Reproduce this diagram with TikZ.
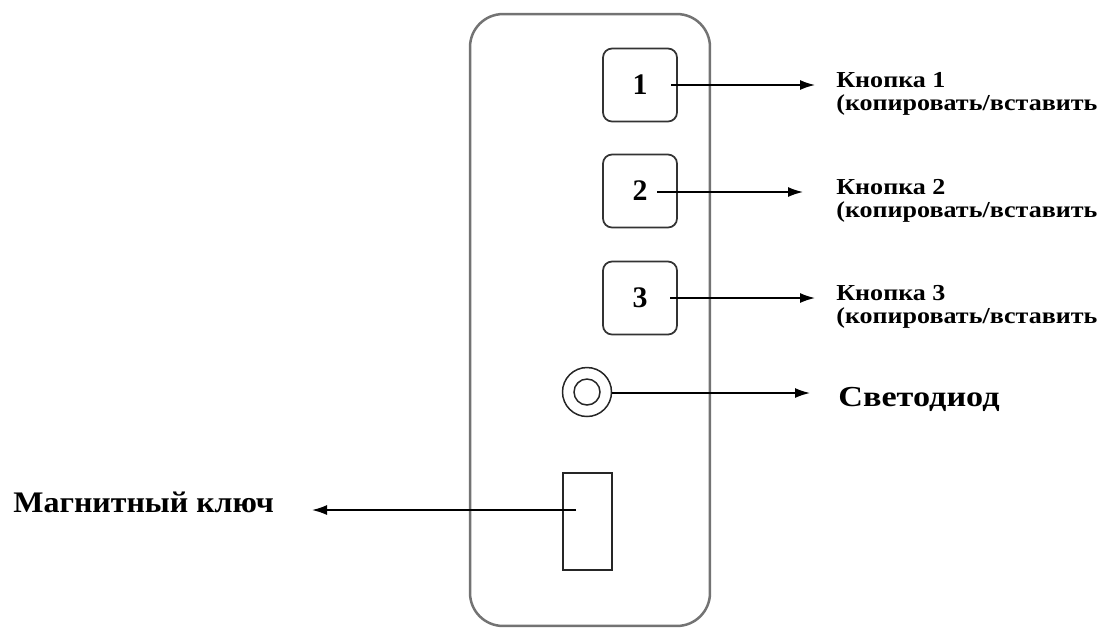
\documentclass[tikz,border=0pt]{standalone}
\usepackage{fontspec}
\setmainfont{Liberation Serif}
\newfontfamily\capfont[FakeStretch=1.14]{Liberation Serif}
\newfontfamily\ledfont[FakeStretch=1.18]{Liberation Serif}
\newfontfamily\slotfont[FakeStretch=1.07]{Liberation Serif}
\usetikzlibrary{arrows.meta, positioning}

\begin{document}
\begin{tikzpicture}[
        x=0.02cm, y=-0.02cm,
        panel/.style={
            draw=black!55,
            line width=0.05cm,
            rounded corners=0.66cm,
            minimum width=4.8cm,
            minimum height=12.24cm
        },
        keybox/.style={
            draw=black!80,
            line width=0.035cm,
            rounded corners=0.18cm,
            minimum width=1.48cm,
            minimum height=1.46cm,
            font=\fontsize{17}{17}\selectfont\bfseries
        },
        ledring/.style={draw=black!85, circle, line width=0.03cm, inner sep=0pt},
        magnet/.style={
            draw=black!85,
            line width=0.04cm,
            minimum width=0.98cm,
            minimum height=1.94cm
        },
        caption/.style={inner sep=0pt, align=left, font=\capfont\fontsize{13}{13}\selectfont\bfseries},
        ledcaption/.style={inner sep=0pt, font=\ledfont\fontsize{16.5}{16.5}\selectfont\bfseries},
        slotcaption/.style={inner sep=0pt, font=\slotfont\fontsize{17}{17}\selectfont\bfseries},
        callout/.style={-{Latex[length=0.3cm, width=0.2cm]}, line width=0.03cm}
    ]
        \useasboundingbox (0,0) rectangle (1104,627);

        % device body
        \node[panel] (body) at (590,320) {};

        % keys
        \node[keybox] (key1) at (640,85) {1};
        \node[keybox] (key2) at (640,191) {2};
        \node[keybox] (key3) at (640,298) {3};

        % LED and magnetic key slot
        \node[ledring, minimum size=0.98cm] (led) at (587,392) {};
        \node[ledring, minimum size=0.52cm] (ledin) at (led.center) {};
        \node[magnet] (slot) at (587.5,521.5) {};

        % texts
        \node[caption, anchor=north west] (cap1) at (836,72) {Кнопка 1\\(копировать/вставить};
        \node[caption, anchor=north west] (cap2) at (836,179) {Кнопка 2\\(копировать/вставить};
        \node[caption, anchor=north west] (cap3) at (836,285) {Кнопка 3\\(копировать/вставить};
        \node[ledcaption, anchor=base west] (capled) at (838,406) {Светодиод};
        \node[slotcaption, anchor=base west] (capslot) at (13,512) {Магнитный ключ};

        % arrow ends
        \coordinate (key1in) at (671,85);
        \coordinate (key2in) at (657,192);
        \coordinate (key3in) at (670,298);
        \coordinate (slotin) at (576,510);
        \coordinate (tip1) at (815,85);
        \coordinate (tip2) at (803,192);
        \coordinate (tip3) at (815,298);
        \coordinate (tipled) at (810,393);
        \coordinate (tipslot) at (312,510);

        \draw[callout] (key1in) -- (tip1);
        \draw[callout] (key2in) -- (tip2);
        \draw[callout] (key3in) -- (tip3);
        \draw[callout] (led.east |- tipled) -- (tipled);
        \draw[callout] (slotin) -- (tipslot);
    \end{tikzpicture}
\end{document}
